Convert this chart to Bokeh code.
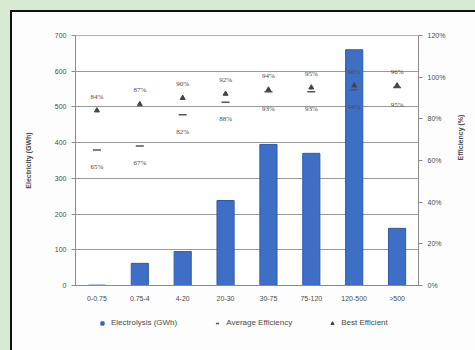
import math
from bokeh.plotting import figure
from bokeh.layouts import column
from bokeh.models import (Range1d, LinearAxis, FixedTicker, ColumnDataSource,
                          Legend, LegendItem, LabelSet)
from bokeh.embed import file_html
from bokeh.resources import INLINE

categories = ["0-0.75", "0.75-4", "4-20", "20-30", "30-75", "75-120", "120-500", ">500"]
electricity_gwh = [1, 62, 95, 238, 395, 370, 660, 160]
avg_eff = [65, 67, 82, 88, 93, 93, 94, 95]
best_eff = [84, 87, 90, 92, 94, 95, 96, 96]
left_ticks = [0, 100, 200, 300, 400, 500, 600, 700]
right_ticks = [0, 20, 40, 60, 80, 100, 120]
legend_labels = ["Electrolysis (GWh)", "Average Efficiency", "Best Efficient"]

src = ColumnDataSource(dict(
    cat=categories, gwh=electricity_gwh, avg=avg_eff, best=best_eff,
    avg_lbl=[f"{v}%" for v in avg_eff], best_lbl=[f"{v}%" for v in best_eff],
))

TXT = "#4a4a4a"
FONT = "Liberation Sans"
BAR_FILL, BAR_LINE = "#3d6fc7", "#2f5aa8"
AVG_C, BEST_C = "#555555", "#444444"

p = figure(x_range=categories, y_range=Range1d(0, 700), width=475, height=315,
           output_backend="svg", toolbar_location=None,
           min_border_left=75, min_border_right=57, min_border_top=35, min_border_bottom=30,
           background_fill_color="#ffffff", border_fill_color=None)
p.styles = {"background": ("linear-gradient(#fdfdfd,#fdfdfd) 12px 12px / 100% 100% no-repeat, "
                           "linear-gradient(#111,#111) 10px 10px / 100% 100% no-repeat, #d9ead3")}
p.outline_line_color = "#b0b0b0"
p.extra_y_ranges = {"eff": Range1d(0, 120)}

p.vbar(x="cat", top="gwh", width=0.4, source=src, fill_color=BAR_FILL, line_color=BAR_LINE)
p.scatter(x="cat", y="avg", source=src, y_range_name="eff", marker="dash",
          size=8, line_color=AVG_C, line_width=1.5)
p.scatter(x="cat", y="best", source=src, y_range_name="eff", marker="triangle",
          size=5, fill_color=BEST_C, line_color=BEST_C)

p.add_layout(LabelSet(x="cat", y="best", text="best_lbl", source=src, y_range_name="eff",
                      y_offset=14, text_align="center", text_baseline="middle",
                      text_font_size="7px", text_color=TXT, text_font=FONT))
p.add_layout(LabelSet(x="cat", y="avg", text="avg_lbl", source=src, y_range_name="eff",
                      y_offset=-17, text_align="center", text_baseline="middle",
                      text_font_size="7px", text_color=TXT, text_font=FONT))

right = LinearAxis(y_range_name="eff", axis_label="Efficiency (%)")
right.ticker = FixedTicker(ticks=right_ticks)
right.major_label_overrides = {t: f"{t}%" for t in right_ticks}
right.axis_label_standoff = 12
right.axis_label_orientation = math.pi / 2
p.add_layout(right, "right")

p.yaxis[0].ticker = FixedTicker(ticks=left_ticks)
p.yaxis[0].axis_label = "Electricity (GWh)"
p.yaxis[0].axis_label_standoff = 20

for ax in p.axis:
    ax.axis_line_color = "#8a8a8a"
    ax.major_tick_line_color = "#8a8a8a"
    ax.major_tick_out = 4
    ax.major_tick_in = 0
    ax.minor_tick_line_color = None
    ax.major_label_text_font_size = "7px"
    ax.major_label_text_color = TXT
    ax.major_label_text_font = FONT
    ax.axis_label_text_font_size = "7px"
    ax.axis_label_text_font_style = "bold"
    ax.axis_label_text_color = TXT
    ax.axis_label_text_font = FONT
p.xaxis.major_tick_line_color = None

p.xgrid.grid_line_color = None
p.ygrid.grid_line_color = "#9a9a9a"
p.ygrid.grid_line_width = 1

# legend strip: a small figure whose y range keeps the series out of view,
# so only its (unclipped) legend shows
pl = figure(width=475, height=35, output_backend="svg", toolbar_location=None,
            x_range=categories, y_range=Range1d(-20, -10),
            x_axis_location=None, y_axis_location=None,
            min_border_left=0, min_border_right=0, min_border_top=0, min_border_bottom=0,
            background_fill_color=None, border_fill_color=None)
pl.styles = {"background": ("linear-gradient(#fdfdfd,#fdfdfd) 12px 0px / 100% 100% no-repeat, "
                            "linear-gradient(#111,#111) 10px 0px / 100% 100% no-repeat, #d9ead3")}
pl.grid.grid_line_color = None
pl.outline_line_color = None
r_bar = pl.scatter(x="cat", y="gwh", source=src, marker="square", size=7,
                   fill_color=BAR_FILL, line_color=BAR_LINE)
r_avg = pl.scatter(x="cat", y="avg", source=src, marker="dash", size=8,
                   line_color=AVG_C, line_width=1.5)
r_best = pl.scatter(x="cat", y="best", source=src, marker="triangle", size=5,
                    fill_color=BEST_C, line_color=BEST_C)
legend = Legend(items=[
    LegendItem(label=legend_labels[0], renderers=[r_bar]),
    LegendItem(label=legend_labels[1], renderers=[r_avg]),
    LegendItem(label=legend_labels[2], renderers=[r_best]),
], orientation="horizontal", location=(23, 23))
legend.label_text_font_size = "8px"
legend.label_text_color = TXT
legend.label_text_font = FONT
legend.glyph_width = 8
legend.glyph_height = 8
legend.spacing = 36
legend.padding = 2
legend.margin = 0
legend.border_line_color = None
legend.background_fill_alpha = 0
pl.add_layout(legend)

layout = column(p, pl, spacing=0)

html = file_html(layout, INLINE)
html = html.replace("</head>", "<style>html,body{background-color:#d9ead3;}</style></head>", 1)
open("out.html", "w").write(html)
